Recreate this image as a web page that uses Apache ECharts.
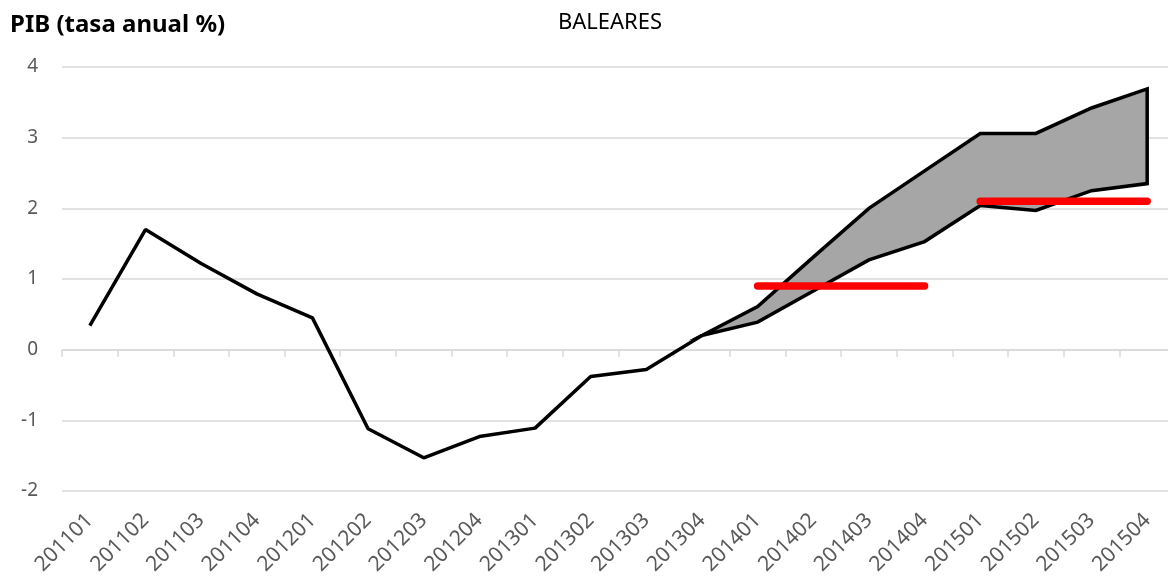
<!DOCTYPE html>
<html>
<head>
<meta charset="utf-8">
<script src="https://cdn.jsdelivr.net/npm/echarts@6/dist/echarts.min.js"></script>
<style>html,body{margin:0;padding:0;background:#fff;overflow:hidden;width:1168px;height:580px}#c{width:1176px;height:580px}</style>
</head>
<body>
<div id="c"></div>
<script>
const categories = ['201101','201102','201103','201104','201201','201202','201203','201204','201301','201302','201303','201304','201401','201402','201403','201404','201501','201502','201503','201504'];
const pibLine   = [0.34, 1.70, 1.22, 0.79, 0.45, -1.12, -1.53, -1.23, -1.11, -0.38, -0.28, 0.20, null, null, null, null, null, null, null, null];
const bandUpper = [null, null, null, null, null, null, null, null, null, null, null, 0.20, 0.61, 1.31, 2.00, 2.53, 3.06, 3.06, 3.42, 3.69];
const bandLower = [null, null, null, null, null, null, null, null, null, null, null, 0.20, 0.39, 0.83, 1.27, 1.53, 2.04, 1.97, 2.25, 2.35];
const target2014 = [null, null, null, null, null, null, null, null, null, null, null, null, 0.9, 0.9, 0.9, 0.9, null, null, null, null];
const target2015 = [null, null, null, null, null, null, null, null, null, null, null, null, null, null, null, null, 2.1, 2.1, 2.1, 2.1];
const yTicks = [-2, -1, 0, 1, 2, 3, 4];

const FONT = 'Noto Sans';
const chart = echarts.init(document.getElementById('c'), null, {renderer: 'canvas'});

const bandData = categories.map((c, i) => [i, bandLower[i], bandUpper[i]]).filter(d => d[1] != null);

chart.setOption({
  animation: false,
  backgroundColor: '#fff',
  title: [
    {text: 'PIB (tasa anual %)', left: 10, top: 13, padding: 0,
     textStyle: {fontFamily: FONT, fontWeight: 'bold', fontSize: 24, color: '#000'}},
    {text: 'BALEARES', left: 610, top: 12, padding: 0, textAlign: 'center',
     textStyle: {fontFamily: FONT, fontWeight: 'normal', fontSize: 22, color: '#000'}}
  ],
  grid: {left: 62, right: 1, top: 67, bottom: 89, containLabel: false},
  xAxis: [
    {type: 'category', data: categories, boundaryGap: true, position: 'bottom',
     axisLine: {show: false, onZero: false}, axisTick: {show: false},
     axisLabel: {rotate: 45, interval: 0, margin: 26, color: '#595959', fontFamily: FONT, fontSize: 21},
     splitLine: {show: false}},
    {type: 'category', data: categories, boundaryGap: true, position: 'bottom',
     axisLine: {show: true, onZero: true, lineStyle: {color: '#d9d9d9', width: 1.5}},
     axisTick: {show: true, interval: 0, length: 7, lineStyle: {color: '#d9d9d9', width: 1.5}},
     axisLabel: {show: false}, splitLine: {show: false}}
  ],
  yAxis: {type: 'value', min: yTicks[0], max: yTicks[yTicks.length - 1], interval: 1,
    axisLine: {show: false}, axisTick: {show: false},
    axisLabel: {color: '#595959', fontFamily: FONT, fontSize: 19, margin: 24},
    splitLine: {show: true, lineStyle: {color: '#d9d9d9', width: 1.5}}},
  series: [
    {type: 'custom', xAxisIndex: 0, z: 2, data: bandData,
     renderItem: function (params, api) {
       if (params.dataIndex !== 0) return null;
       const up = bandData.map(d => api.coord([d[0], d[2]]));
       const lo = bandData.map(d => api.coord([d[0], d[1]])).reverse();
       return {type: 'polygon', shape: {points: up.concat(lo)},
         style: {fill: '#a6a6a6', stroke: '#000', lineWidth: 3.5, lineJoin: 'miter'}};
     }},
    {type: 'line', xAxisIndex: 0, data: pibLine, z: 3, symbol: 'none', connectNulls: false,
     lineStyle: {color: '#000', width: 3.5}},
    {type: 'line', xAxisIndex: 0, data: target2014, z: 4, symbol: 'none',
     lineStyle: {color: '#ff0000', width: 7.5, cap: 'round'}},
    {type: 'line', xAxisIndex: 0, data: target2015, z: 4, symbol: 'none',
     lineStyle: {color: '#ff0000', width: 7.5, cap: 'round'}}
  ]
});
</script>
</body>
</html>
